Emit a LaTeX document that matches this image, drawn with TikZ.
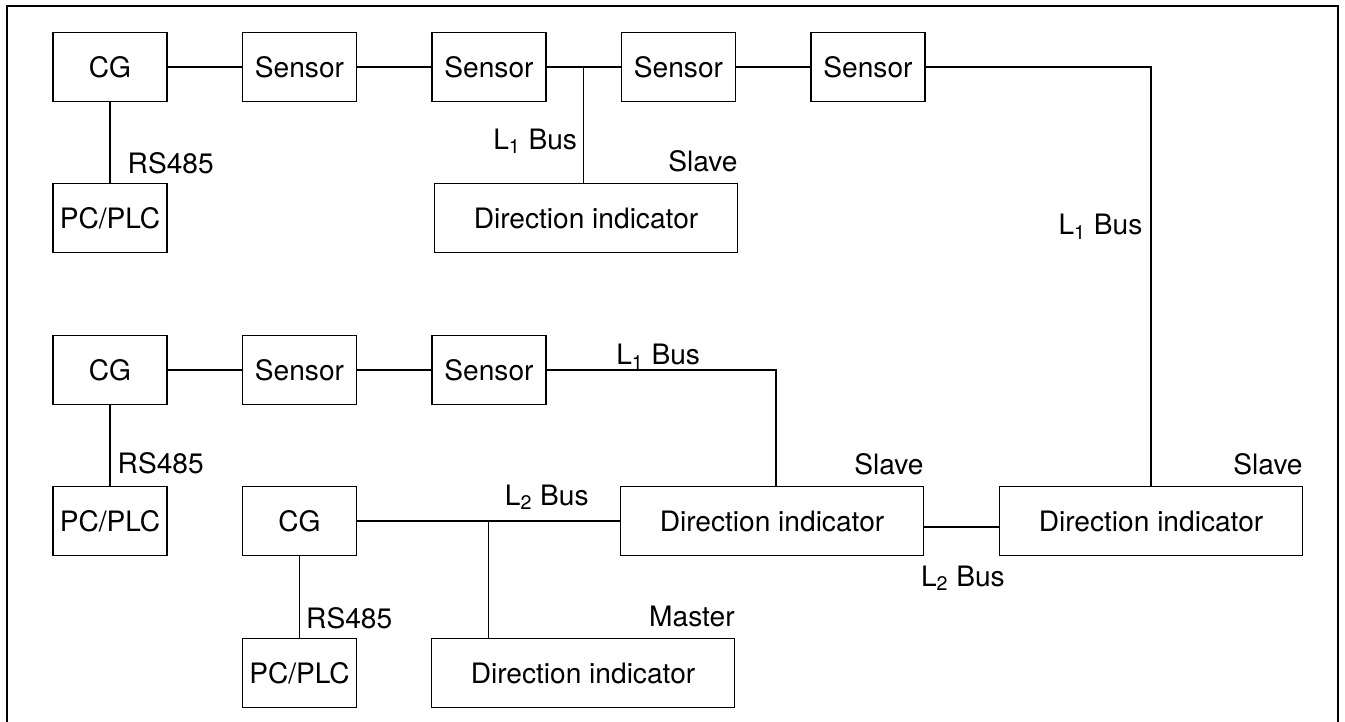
\documentclass[tikz,border=0pt]{standalone}
\usepackage{fontspec}
\setmainfont{TeX Gyre Heros}
\usetikzlibrary{positioning}

\begin{document}
\begin{tikzpicture}[line width=0.8pt,
  box/.style={draw,line width=0.9pt,on grid,minimum width=2.28cm,minimum height=1.38cm,inner sep=1pt,font=\fontsize{16}{19}\selectfont},
  wide/.style={box,minimum width=6.06cm},
  lbl/.style={inner sep=0pt,font=\fontsize{16}{19}\selectfont}]
  \useasboundingbox (0,0) rectangle (26.9,-14.44);
  \draw[line width=1pt] (0.14,-15) |- (26.76,-0.12) -- (26.76,-15);

  \node[box] (cg1) at (2.2,-1.34) {CG};
  \node[box] (s1) [right=3.79cm of cg1] {Sensor};
  \node[box] (s2) [right=3.79cm of s1] {Sensor};
  \node[box] (s3) [right=3.79cm of s2] {Sensor};
  \node[box] (s4) [right=3.79cm of s3] {Sensor};
  \node[box] (pc1) [below=3.02cm of cg1] {PC/PLC};
  \node[wide] (di1) [below right=3.02cm and 1.94cm of s2] {Direction indicator};

  \node[box] (cg2) [below=3.04cm of pc1] {CG};
  \node[box] (s5) [right=3.79cm of cg2] {Sensor};
  \node[box] (s6) [right=3.79cm of s5] {Sensor};
  \node[box] (pc2) [below=3.02cm of cg2] {PC/PLC};
  \node[box] (cg3) [right=3.79cm of pc2] {CG};
  \node[box] (pc3) [below=3.04cm of cg3] {PC/PLC};
  \node[wide] (di3) [right=5.67cm of pc3] {Direction indicator};
  \node[wide] (di2) [right=9.45cm of cg3] {Direction indicator};
  \node[wide] (di4) [right=7.58cm of di2] {Direction indicator};

  \draw (cg1) -- (s1);
  \draw (s1) -- (s2);
  \draw (s2) -- coordinate[midway] (j1) (s3);
  \draw (s3) -- (s4);
  \draw (cg1) -- node[lbl,pos=0.76,anchor=west,xshift=0.34cm] {RS485} (pc1);
  \draw (j1) -- node[lbl,pos=0.71,anchor=base east,xshift=-0.12cm] {L\textsubscript{1} Bus} (j1 |- di1.north);
  \node[lbl,anchor=base east] (sl1) at ([yshift=0.22cm]di1.north east) {Slave};
  \draw (s4) -| node[lbl,pos=0.7,anchor=base east,xshift=-0.16cm] {L\textsubscript{1} Bus} (di4);

  \draw (cg2) -- (s5);
  \draw (s5) -- (s6);
  \draw (cg2) -- node[lbl,pos=0.72,anchor=west,xshift=0.14cm] {RS485} (pc2);
  \draw (s6) -| node[lbl,pos=0.15,anchor=base west,yshift=0.1cm] {L\textsubscript{1} Bus} ([xshift=0.08cm]di2.north);
  \node[lbl,anchor=base east] (sl2) at ([yshift=0.22cm]di2.north east) {Slave};
  \node[lbl,anchor=base east] (sl3) at ([yshift=0.22cm]di4.north east) {Slave};

  \draw (cg3) -- coordinate[midway] (j2) node[lbl,pos=0.56,anchor=base west,yshift=0.32cm] {L\textsubscript{2} Bus} (di2);
  \draw (j2) -- (j2 |- di3.north);
  \draw (cg3) -- node[lbl,pos=0.76,anchor=west,xshift=0.12cm] {RS485} (pc3);
  \node[lbl,anchor=base east] (ms) at ([yshift=0.22cm]di3.north east) {Master};
  \draw ([yshift=-0.12cm]di2.east) -- node[lbl,pos=0,anchor=base west,xshift=-0.08cm,yshift=-1.18cm] {L\textsubscript{2} Bus} ([yshift=-0.12cm]di4.west);
\end{tikzpicture}
\end{document}
